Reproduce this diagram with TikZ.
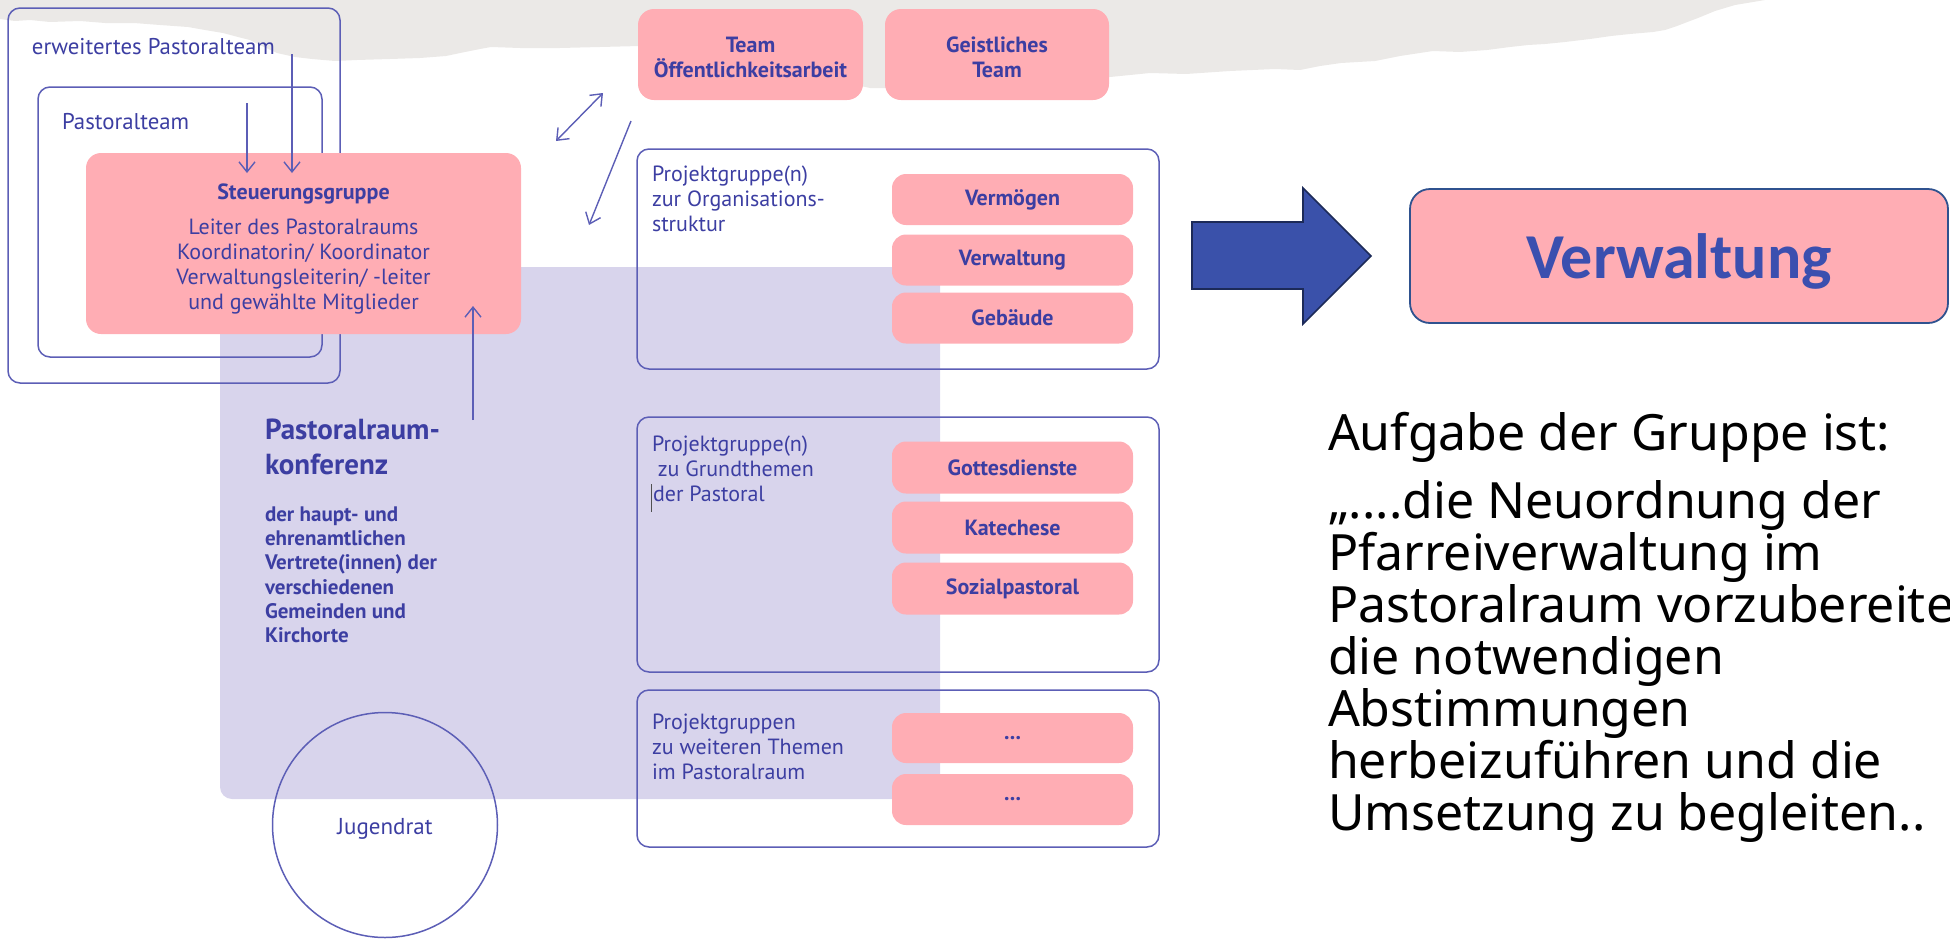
\documentclass[tikz,border=0pt]{standalone}
\usepackage{fontspec}
\setmainfont{PT Sans}
\newfontfamily\notos{Noto Sans}
\newfontfamily\carl{Carlito}
\usetikzlibrary{arrows.meta}
\definecolor{txtblue}{RGB}{60,62,162}
\definecolor{lineblue}{RGB}{92,94,182}
\definecolor{pinkf}{RGB}{255,173,180}
\definecolor{lavf}{RGB}{216,212,236}
\definecolor{greybg}{RGB}{235,233,231}
\definecolor{bigarrow}{RGB}{58,81,170}
\definecolor{bigarrowline}{RGB}{28,42,88}
\definecolor{verwline}{RGB}{47,82,143}
\definecolor{verwtxt}{RGB}{59,79,175}
\definecolor{cursorgrey}{RGB}{80,80,80}
\begin{document}
\begin{tikzpicture}[x=0.5pt,y=-0.5pt,
  every node/.style={inner sep=0pt, outer sep=0pt, text=txtblue},
  frame/.style={draw=lineblue, line width=0.75pt, rounded corners=6pt, rectangle},
  pinkbox/.style={fill=pinkf, rounded corners=7pt, rectangle, font=\fontsize{11}{12.5}\selectfont\bfseries, align=center},
  lbl/.style={font=\fontsize{11}{12.5}\selectfont, anchor=base west},
  lblb/.style={font=\fontsize{10.5}{12}\selectfont\bfseries, anchor=base west},
  conn/.style={draw=lineblue, line width=0.7pt, -{Straight Barb[length=5pt,width=8pt]}},
  dconn/.style={draw=lineblue, line width=0.7pt, {Straight Barb[length=5pt,width=8pt]}-{Straight Barb[length=5pt,width=8pt]}},
  qtext/.style={font=\notos\fontsize{25}{26}\selectfont, text=black, anchor=base west},
]
\useasboundingbox (0,0) rectangle (1950,938);
\clip (0,0) rectangle (1950,938);
% torn grey paper band
\fill[greybg] (0,0) -- (0,19) -- (15,21) -- (30,20) -- (50,22) -- (80,21) -- (105,23) -- (134,23) -- (160,25) -- (188,27) -- (205,30) -- (223,33) -- (238,37) -- (250,40) -- (262,46) -- (277,53) -- (295,57) -- (312,59) -- (335,61) -- (357,60) -- (390,59) -- (420,58) -- (446,56) -- (465,52) -- (480,49) -- (491,47) -- (520,48) -- (560,48) -- (600,47) -- (640,46) -- (700,56) -- (760,66) -- (820,77) -- (870,88) -- (885,88) -- (940,85) -- (1000,82) -- (1050,80) -- (1110,77) -- (1150,73) -- (1186,74) -- (1230,71) -- (1275,69) -- (1300,70) -- (1320,66) -- (1341,63) -- (1375,61) -- (1400,56) -- (1433,51) -- (1460,52) -- (1487,50) -- (1510,47) -- (1528,45) -- (1545,44) -- (1565,42) -- (1590,39) -- (1611,36) -- (1630,34) -- (1653,32) -- (1665,30) -- (1677,26) -- (1690,21) -- (1698,18) -- (1715,11) -- (1735,5) -- (1765,0) -- cycle;
% Pastoralraumkonferenz area
\fill[lavf] (940,267) -- (940,799) -- (232,799) .. controls (225.4,799) and (220,793.6) .. (220,787) -- (220,267) -- cycle;
% outlined frames
\node[frame, minimum width=166pt, minimum height=187.5pt] (ept) at (174,195.5) {};
\node[frame, minimum width=142pt, minimum height=135pt] (pt) at (180,222) {};
\node[lbl, font=\fontsize{11.4}{12.5}\selectfont] (eptl) at (32,54) {erweitertes Pastoralteam};
\node[lbl, font=\fontsize{11.4}{12.5}\selectfont] (ptl) at (62,129) {Pastoralteam};
% Steuerungsgruppe
\node[pinkbox, rounded corners=7.5pt, minimum width=217.5pt, minimum height=90.5pt] (steuer) at (303.5,243.5) {};
\node[align=center, font=\fontsize{11}{12.5}\selectfont] (steuertxt) at ([yshift=-2.5pt]steuer.center) {{\bfseries Steuerungsgruppe}\\[5pt]Leiter des Pastoralraums\\Koordinatorin/ Koordinator\\Verwaltungsleiterin/ -leiter\\und gewählte Mitglieder};
% Pastoralraumkonferenz text
\node[font=\fontsize{14.5}{17.5}\selectfont\bfseries, anchor=base west] (prk1) at (265,439) {Pastoralraum-};
\node[font=\fontsize{14.5}{17.5}\selectfont\bfseries, anchor=base west] (prk2) at (265,474) {konferenz};
\node[lblb] (prk3) at (265,521) {der haupt- und};
\node[lblb] (prk4) at (265,545) {ehrenamtlichen};
\node[lblb] (prk5) at (265,569.5) {Vertrete(innen) der};
\node[lblb] (prk6) at (265,594) {verschiedenen};
\node[lblb] (prk7) at (265,618) {Gemeinden und};
\node[lblb] (prk8) at (265,642) {Kirchorte};
% Jugendrat
\node[circle, draw=lineblue, line width=0.75pt, minimum size=112.5pt] (jr) at (385,825) {};
\node[font=\fontsize{11.5}{13}\selectfont] (jrtxt) at ([yshift=-2pt]jr.center) {Jugendrat};
% top teams
\node[pinkbox, rounded corners=8pt, minimum width=112.5pt, minimum height=45.5pt] (toa) at (750.5,54.5) {};
\node[align=center, font=\fontsize{11}{12.5}\selectfont\bfseries] (toatxt) at ([yshift=-1.5pt]toa.center) {Team\\Öffentlichkeitsarbeit};
\node[pinkbox, rounded corners=8pt, minimum width=112pt, minimum height=45.5pt] (gt) at (997,54.5) {};
\node[align=center, font=\fontsize{11}{12.5}\selectfont\bfseries] (gttxt) at ([yshift=-1.5pt]gt.center) {Geistliches\\Team};
% project group frames
\node[frame, minimum width=261pt, minimum height=110pt] (org) at (898,259) {};
\node[frame, minimum width=261pt, minimum height=127.5pt] (grund) at (898,544.5) {};
\node[frame, minimum width=261pt, minimum height=78.5pt] (weit) at (898,768.5) {};
\node[lbl] (org1) at (652,181) {Projektgruppe(n)};
\node[lbl] (org2) at (652,206) {zur Organisations-};
\node[lbl] (org3) at (652,231) {struktur};
\node[lbl] (gr1) at (652,451) {Projektgruppe(n)};
\node[lbl] (gr2) at (652,476) {\ zu Grundthemen};
\node[lbl] (gr3) at (653,501) {der Pastoral};
\draw[cursorgrey, line width=0.5pt] (651,484) -- (651,512);
\node[lbl] (we1) at (652,729) {Projektgruppen};
\node[lbl] (we2) at (652,754) {zu weiteren Themen};
\node[lbl] (we3) at (652,779) {im Pastoralraum};
% pink labels
\node[pinkbox, minimum width=120.5pt, minimum height=25.5pt] (verm) at (1012.5,199.5) {Vermögen};
\node[pinkbox, minimum width=120.5pt, minimum height=25.5pt] (verwk) at (1012.5,260) {Verwaltung};
\node[pinkbox, minimum width=120.5pt, minimum height=25.5pt] (geb) at (1012.5,318) {Gebäude};
\node[pinkbox, minimum width=120.5pt, minimum height=26pt] (gd) at (1012.5,467.5) {Gottesdienste};
\node[pinkbox, minimum width=120.5pt, minimum height=26pt] (kat) at (1012.5,527.5) {Katechese};
\node[pinkbox, minimum width=120.5pt, minimum height=26pt] (soz) at (1012.5,588.5) {Sozialpastoral};
\node[pinkbox, minimum width=120.5pt, minimum height=25pt] (d1) at (1012.5,738) {...};
\node[pinkbox, minimum width=120.5pt, minimum height=25.5pt] (d2) at (1012.5,799.5) {...};
% connectors
\coordinate (a1s) at (247,103); \coordinate (a1e) at (247,173);
\coordinate (a2s) at (292,54); \coordinate (a2e) at (292,173);
\coordinate (ups) at (473,420); \coordinate (upe) at (473,306);
\coordinate (dbs) at (556,141); \coordinate (dbe) at (603,93);
\coordinate (sgs) at (631,121); \coordinate (sge) at (589,225);
\draw[conn] (a1s) -- (a1e);
\draw[conn] (a2s) -- (a2e);
\draw[conn] (ups) -- (upe);
\draw[dconn] (dbs) -- (dbe);
\draw[conn] (sgs) -- (sge);
% big arrow
\fill[bigarrow, draw=bigarrowline, line width=0.8pt] (1192,222) -- (1303,222) -- (1303,188) -- (1371,256) -- (1303,324) -- (1303,289) -- (1192,289) -- cycle;
% Verwaltung box
\node[draw=verwline, line width=0.9pt, fill=pinkf, rounded corners=10pt, minimum width=269pt, minimum height=67pt, font=\carl\bfseries\fontsize{32}{36}\selectfont, text=verwtxt, text height=22pt, text depth=0pt] (verw) at (1679,256) {Verwaltung};
% quote text
\node[qtext] (q1) at (1328,450) {Aufgabe der Gruppe ist:};
\node[qtext] (q2) at (1328,518) {„....die Neuordnung der};
\node[qtext] (q3) at (1328,570) {Pfarreiverwaltung im};
\node[qtext] (q4) at (1328,622) {Pastoralraum vorzubereiten,};
\node[qtext] (q5) at (1328,674) {die notwendigen};
\node[qtext] (q6) at (1328,726) {Abstimmungen};
\node[qtext] (q7) at (1328,778) {herbeizuführen und die};
\node[qtext] (q8) at (1328,830) {Umsetzung zu begleiten..};
\end{tikzpicture}
\end{document}
